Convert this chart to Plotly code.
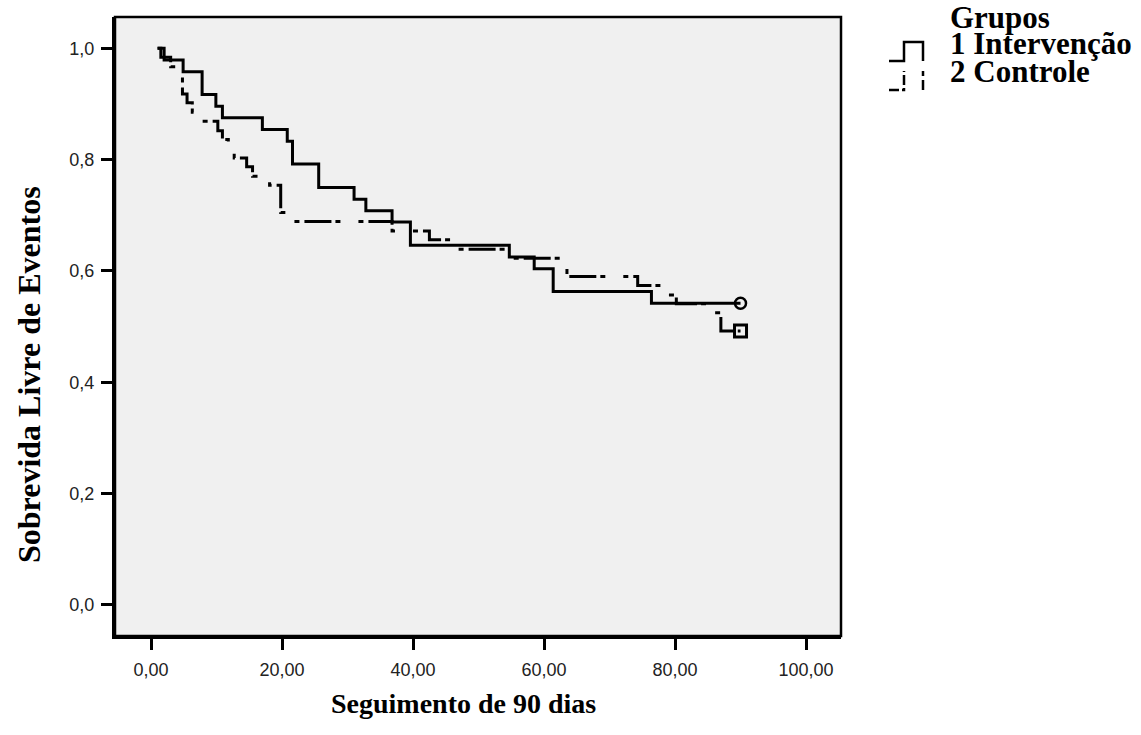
import plotly.graph_objects as go

# ---- data ----
group_names = ["1 Intervenção", "2 Controle"]
legend_title = "Grupos"

interv_t = [1, 2, 4.9, 7.8, 9.9, 10.9, 17.0, 20.8, 21.6, 25.6, 31.0, 32.8, 36.8,
            39.6, 54.7, 58.5, 61.4, 76.4, 90]
interv_s = [1.0, 0.979, 0.958, 0.917, 0.896, 0.875, 0.854, 0.833, 0.792, 0.750,
            0.729, 0.708, 0.688, 0.646, 0.625, 0.604, 0.563, 0.542, 0.542]

ctrl_t = [1, 1.5, 3.0, 4.3, 4.8, 5.5, 6.3, 7.0, 10.2, 10.9, 11.8, 12.7, 14.6,
          15.5, 18.1, 19.8, 20.8, 36.8, 42.5, 45.7, 54.6, 63.5, 74.3, 78.5,
          80.2, 84.5, 87.0, 90]
ctrl_s = [1.0, 0.984, 0.967, 0.951, 0.918, 0.902, 0.885, 0.869, 0.852, 0.836,
          0.820, 0.803, 0.787, 0.770, 0.754, 0.705, 0.689, 0.672, 0.656, 0.639,
          0.623, 0.590, 0.574, 0.557, 0.541, 0.525, 0.492, 0.492]

x_tickvals = [0, 20, 40, 60, 80, 100]
x_ticktext = ["0,00", "20,00", "40,00", "60,00", "80,00", "100,00"]
y_tickvals = [0, 0.2, 0.4, 0.6, 0.8, 1.0]
y_ticktext = ["0,0", "0,2", "0,4", "0,6", "0,8", "1,0"]

x_title = "Seguimento de 90 dias"
y_title = "Sobrevida Livre de Eventos"

# ---- layout geometry (pixels) ----
W, H = 1141, 735
L, R, T, B = 115, 841, 17, 636   # plot area

def px(x):
    return (x - L) / (R - L)

def py(y):
    return (B - y) / (B - T)

CTRL_DASH = "27px,4px,5px,18px,5px,5px"

fig = go.Figure()

fig.add_trace(go.Scatter(
    x=interv_t, y=interv_s, mode="lines", line_shape="hv",
    line=dict(color="black", width=3), name=group_names[0], showlegend=False,
))
fig.add_trace(go.Scatter(
    x=ctrl_t, y=ctrl_s, mode="lines", line_shape="hv",
    line=dict(color="black", width=3, dash=CTRL_DASH), name=group_names[1],
    showlegend=False,
))
# censor markers at the end of follow-up
fig.add_trace(go.Scatter(
    x=[interv_t[-1]], y=[interv_s[-1]], mode="markers",
    marker=dict(symbol="circle-open", size=11, color="black", line=dict(width=2.5)),
    showlegend=False,
))
fig.add_trace(go.Scatter(
    x=[ctrl_t[-1]], y=[ctrl_s[-1]], mode="markers",
    marker=dict(symbol="square-open", size=12, color="black", line=dict(width=3)),
    showlegend=False,
))

sans = "Liberation Sans, Arial, sans-serif"
serif = "Liberation Serif, Times New Roman, serif"

fig.update_layout(
    width=W, height=H,
    margin=dict(l=L, r=W - R, t=T, b=H - B),
    paper_bgcolor="white", plot_bgcolor="#F0F0F0",
    xaxis=dict(
        range=[-5.5, 105.34], tickvals=x_tickvals, ticktext=x_ticktext,
        showgrid=False, zeroline=False, showline=True, linecolor="black", linewidth=3,
        ticks="outside", ticklen=11, tickwidth=3, tickcolor="black",
        tickfont=dict(family=sans, size=18, color="#222"), ticklabelstandoff=4,
    ),
    yaxis=dict(
        range=[-0.0557, 1.0562], tickvals=y_tickvals, ticktext=y_ticktext,
        showgrid=False, zeroline=False, showline=True, linecolor="black", linewidth=3,
        ticks="outside", ticklen=11, tickwidth=3, tickcolor="black",
        tickfont=dict(family=sans, size=18, color="#222"), ticklabelstandoff=3,
    ),
    shapes=[
        dict(type="rect", xref="paper", yref="paper", x0=0, x1=1, y0=0, y1=1,
             line=dict(color="black", width=2.5)),
        # legend icons
        dict(type="path", xref="paper", yref="paper",
             path=f"M {px(889)} {py(61)} L {px(904)} {py(61)} L {px(904)} {py(42)} "
                  f"L {px(923)} {py(42)} L {px(923)} {py(61)}",
             line=dict(color="black", width=2.5)),
        dict(type="path", xref="paper", yref="paper",
             path=f"M {px(889)} {py(90)} L {px(904)} {py(90)} L {px(904)} {py(71)}",
             line=dict(color="black", width=2.5, dash="10px,3px,4px,3px")),
        dict(type="line", xref="paper", yref="paper",
             x0=px(923), x1=px(923), y0=py(71), y1=py(90),
             line=dict(color="black", width=2.5, dash="5px,4px,11px,3px")),
    ],
    annotations=[
        dict(text=f"<b>{x_title}</b>", xref="paper", yref="paper",
             x=px(463), y=py(704), xanchor="center", yanchor="middle",
             showarrow=False, font=dict(family=serif, size=28, color="black")),
        dict(text=f"<b>{y_title}</b>", xref="paper", yref="paper",
             x=px(29), y=py(375), xanchor="center", yanchor="middle", textangle=-90,
             showarrow=False, font=dict(family=serif, size=32, color="black")),
        dict(text=f"<b>{legend_title}</b>", xref="paper", yref="paper",
             x=px(948), y=py(17), xanchor="left", yanchor="middle",
             showarrow=False, font=dict(family=serif, size=31, color="black")),
        dict(text=f"<b>{group_names[0]}</b>", xref="paper", yref="paper",
             x=px(948), y=py(44), xanchor="left", yanchor="middle",
             showarrow=False, font=dict(family=serif, size=31, color="black")),
        dict(text=f"<b>{group_names[1]}</b>", xref="paper", yref="paper",
             x=px(948), y=py(71), xanchor="left", yanchor="middle",
             showarrow=False, font=dict(family=serif, size=31, color="black")),
    ],
)

fig.write_html(
    "out.html",
    config={"displayModeBar": False},
    post_script="document.body.style.margin='0';document.body.style.padding='0';",
)
